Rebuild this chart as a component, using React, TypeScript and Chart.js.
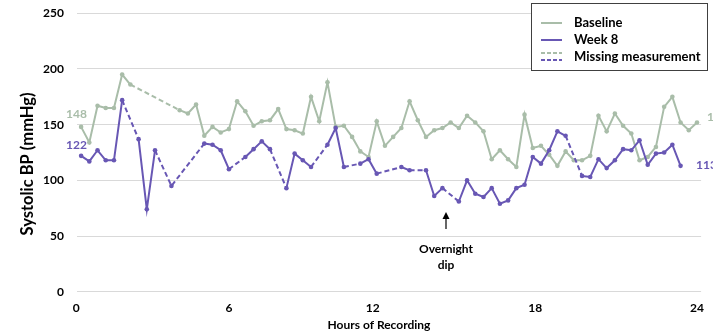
import React, { useEffect, useRef } from "react";
import { Chart, registerables } from "chart.js";

Chart.register(...registerables);

// Sample index (evenly spaced readings over 24 h); null = missing measurement
const baseline: (number | null)[] = [
  148, 134, 167, 165, 165, 195, 186, null, null, null, null, null, 163, 160, 168, 140,
  148, 143, 146, 171, 162, 149, 153, 154, 164, 146, 145, 142, 175, 153, 188, 148,
  149, 139, 126, 121, 153, 131, 139, 147, 171, 154, 139, 145, 147, 152, 147, 158,
  152, 144, 119, 127, 119, 112, 159, 129, 131, 123, 113, 126, 118, 118, 122, 158,
  144, 160, 149, 142, 118, 121, 130, 166, 175, 152, 145, 152,
];
const week8: (number | null)[] = [
  122, 117, 127, 118, 118, 172, null, 137, 74, 127, null, 95, null, null, null, 133,
  132, 127, 110, null, 121, 128, 135, 128, null, 93, 124, 118, 112, null, 132, 147,
  112, null, 115, 119, 106, null, null, 112, 109, null, 109, 86, 93, null, 81, 100,
  88, 85, 93, 79, 82, 93, 96, 121, 115, 127, 144, 140, null, 104, 103, 119, 111,
  118, 128, 127, 136, 114, 124, 125, 132, 113,
];
const hourLabels = ["0", "6", "12", "18", "24"];
const hourTickPositions = [-0.6, 18, 35.5, 55.3, 75];
const yTicks = [0, 50, 100, 150, 200, 250];

const GREEN = "#a9bda9";
const PURPLE = "#6857b4";
const FONT = "Lato, 'Open Sans', sans-serif";

const toPoints = (arr: (number | null)[]) => arr.map((v, i) => ({ x: i, y: v }));

const dashed = (ctx: any) => (ctx.p0.skip || ctx.p1.skip ? [5, 3] : undefined);

const overlay = {
  id: "overlay",
  afterDraw(chart: any) {
    const ctx = chart.ctx as CanvasRenderingContext2D;
    ctx.save();
    // y axis title
    ctx.save();
    ctx.translate(28, 164);
    ctx.rotate(-Math.PI / 2);
    ctx.font = `bold 16.5px ${FONT}`;
    ctx.fillStyle = "#000";
    ctx.textAlign = "center";
    ctx.textBaseline = "middle";
    ctx.fillText("Systolic BP (mmHg)", 0, 0);
    ctx.restore();
    // x axis title
    ctx.font = `bold 12px ${FONT}`;
    ctx.fillStyle = "#000";
    ctx.textAlign = "center";
    ctx.textBaseline = "middle";
    ctx.fillText("Hours of Recording", 379, 325);

    // value labels
    ctx.font = `bold 12px ${FONT}`;
    ctx.textAlign = "left";
    ctx.fillStyle = GREEN;
    ctx.fillText(String(baseline[0]), 66, 114);
    ctx.fillText(String(baseline[baseline.length - 1]), 707, 117);
    ctx.fillStyle = PURPLE;
    ctx.fillText(String(week8[0]), 66, 145);
    ctx.fillText(String(week8[week8.length - 1]), 696, 165);

    // overnight dip annotation
    ctx.fillStyle = "#000";
    ctx.strokeStyle = "#000";
    ctx.lineWidth = 1.2;
    ctx.beginPath();
    ctx.moveTo(446, 229);
    ctx.lineTo(446, 217);
    ctx.stroke();
    ctx.beginPath();
    ctx.moveTo(446, 212);
    ctx.lineTo(442.5, 219);
    ctx.lineTo(449.5, 219);
    ctx.closePath();
    ctx.fill();
    ctx.textAlign = "center";
    ctx.font = `bold 12px ${FONT}`;
    ctx.fillText("Overnight", 446, 249);
    ctx.fillText("dip", 446, 265);

    // legend
    const bx = 531.5, by = 3.5, bw = 176, bh = 67;
    ctx.fillStyle = "#fff";
    ctx.fillRect(bx, by, bw, bh);
    ctx.strokeStyle = "#404040";
    ctx.lineWidth = 1;
    ctx.strokeRect(bx, by, bw, bh);
    const line = (y: number, color: string, dash: number[]) => {
      ctx.beginPath();
      ctx.setLineDash(dash);
      ctx.strokeStyle = color;
      ctx.lineWidth = 2;
      ctx.moveTo(541, y);
      ctx.lineTo(562, y);
      ctx.stroke();
      ctx.setLineDash([]);
    };
    line(23, GREEN, []);
    line(40, PURPLE, []);
    line(53, GREEN, [4, 2]);
    line(60, PURPLE, [4, 2]);
    ctx.fillStyle = "#000";
    ctx.textAlign = "left";
    ctx.font = `bold 13px ${FONT}`;
    ctx.fillText("Baseline", 574, 23);
    ctx.fillText("Week 8", 574, 40);
    ctx.fillText("Missing measurement", 574, 57);
    ctx.restore();
  },
};

export default function App() {
  const ref = useRef<HTMLCanvasElement | null>(null);
  useEffect(() => {
    if (!ref.current) return;
    const chart = new Chart(ref.current, {
      type: "line",
      data: {
        datasets: [
          {
            label: "Week 8",
            data: toPoints(week8) as any,
            borderColor: PURPLE,
            backgroundColor: PURPLE,
            pointBackgroundColor: PURPLE,
            pointBorderColor: PURPLE,
            borderWidth: 2,
            pointRadius: 2.3,
            pointBorderWidth: 0,
            spanGaps: true,
            segment: { borderDash: dashed as any },
          },
          {
            label: "Baseline",
            data: toPoints(baseline) as any,
            borderColor: GREEN,
            backgroundColor: GREEN,
            pointBackgroundColor: GREEN,
            pointBorderColor: GREEN,
            borderWidth: 2,
            pointRadius: 2.3,
            pointBorderWidth: 0,
            spanGaps: true,
            segment: { borderDash: dashed as any },
          },
        ],
      },
      options: {
        animation: false,
        responsive: false,
        maintainAspectRatio: false,
        layout: { padding: { top: 13.3, right: 6, left: 0, bottom: 0 } },
        plugins: { legend: { display: false }, tooltip: { enabled: false } },
        scales: {
          x: {
            type: "linear",
            min: -0.5,
            max: 75.5,
            grid: { display: false, drawTicks: false },
            border: { display: false },
            afterBuildTicks: (scale: any) => {
              scale.ticks = hourTickPositions.map((v) => ({ value: v }));
            },
            afterFit: (scale: any) => {
              scale.height = 42.3;
            },
            ticks: {
              autoSkip: false,
              maxRotation: 0,
              padding: 9,
              color: "#000",
              font: { family: FONT, size: 12, weight: "bold" },
              callback: (_v: any, i: number) => hourLabels[i],
            },
          },
          y: {
            min: 0,
            max: 250,
            afterBuildTicks: (scale: any) => {
              scale.ticks = yTicks.map((v) => ({ value: v }));
            },
            afterFit: (scale: any) => {
              scale.width = 77;
              scale.paddingTop = 0;
              scale.paddingBottom = 0;
            },
            grid: { color: "#d9d9d9", lineWidth: 1, drawTicks: false },
            border: { display: false },
            ticks: {
              padding: 13,
              color: "#000",
              font: { family: FONT, size: 12, weight: "bold" },
            },
          },
        },
      },
      plugins: [overlay],
    });
    return () => chart.destroy();
  }, []);
  return (
    <div style={{ position: "fixed", left: 0, top: 0, width: 713, height: 334, background: "#fff" }}>
      <canvas ref={ref} width={713} height={334} style={{ width: 713, height: 334, display: "block" }} />
    </div>
  );
}
